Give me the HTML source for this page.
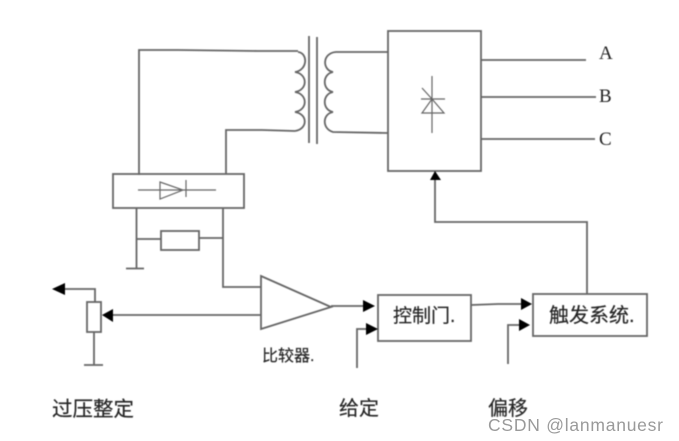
<!DOCTYPE html>
<html>
<head>
<meta charset="utf-8">
<style>
html,body{margin:0;padding:0;background:#fff;width:679px;height:441px;overflow:hidden}
svg{display:block}
.s{fill:none;stroke:#666;stroke-width:1.8}
.t{stroke:#666;stroke-width:1.2;fill:none}
.a{fill:#000;stroke:none}
.cjk{font-family:"Liberation Sans","Noto Sans CJK SC",sans-serif;fill:#222;stroke:#444;stroke-width:0.25}
.lat{font-family:"Liberation Serif",serif;fill:#222;font-size:19px}
</style>
</head>
<body>
<svg width="679" height="441" viewBox="0 0 679 441" xmlns="http://www.w3.org/2000/svg">
<g style="filter:blur(0.5px)">
<!-- primary wiring -->
<path class="s" d="M139,175 V50 H178 L258,51 H298"/>
<path class="s" d="M226,174 V130 H262 L295,131"/>
<!-- primary coil -->
<path class="s" d="M298,52 C308,53 308,70 295,72 C308,74 308,90 295,92 C308,94 308,110 295,112 C308,114 308,129 295,131"/>
<!-- core -->
<path class="s" d="M309,36 V143 M317,37 V144"/>
<!-- secondary coil -->
<path class="s" d="M388,52 H336 C322,53 322,70 333,72 C322,74 322,90 333,92 C322,94 322,110 333,112 C322,114 322,129 333,132 L388,133"/>
<!-- thyristor block -->
<rect class="s" x="388" y="31" width="93" height="140"/>
<path class="t" d="M432,76 V133 M421,99 H445 M422,88 L432,99 M432,99 L422,113 H444 Z"/>
<path class="s" d="M481,60 H586 M481,97 H596 M481,139 H595"/>
<!-- diode block -->
<rect class="s" x="113" y="174" width="131" height="34"/>
<path class="t" d="M138,190 H216 M160,182 V199 L183,190 Z M186,180 V197"/>
<path class="s" d="M136.500,208 V268 M126,268.500 H144 M136,239 H161 M199,238 H223 M223,208 V287 H261"/>
<rect class="s" x="161" y="231" width="38" height="19"/>
<!-- comparator -->
<path class="s" d="M261,276 L331,307 L261,329 Z"/>
<path class="s" d="M261,315 H112"/>
<path class="a" d="M102,315 L113,309 V322 Z"/>
<!-- potentiometer -->
<rect class="s" x="87" y="302" width="14" height="30"/>
<path class="s" d="M95,302 V289 H62 M94,332 V365 M84,365 H103"/>
<path class="a" d="M52,289 L65,283 V295 Z"/>
<!-- to control gate -->
<path class="s" d="M331,306 H365"/>
<path class="a" d="M375,306 L363,300 V312 Z"/>
<rect class="s" x="378" y="295" width="93" height="46"/>
<path class="s" d="M357,368 V329 H368"/>
<path class="a" d="M378,329 L366,323 V335 Z"/>
<path class="s" d="M471,305 L498,304 H523"/>
<path class="a" d="M532,304 L521,298 V310 Z"/>
<rect class="s" x="533" y="294" width="114" height="42"/>
<path class="s" d="M508,364 V325 H520"/>
<path class="a" d="M530,325 L519,319 V331 Z"/>
<path class="s" d="M587,294 V222 H435 V180"/>
<path class="a" d="M435,171 L430,180 H441 Z"/>
<!-- text -->
<text class="lat" x="599" y="59">A</text>
<text class="lat" x="599" y="102">B</text>
<text class="lat" x="599" y="145">C</text>
<text class="cjk" x="393" y="322" font-size="19">控制门.</text>
<text class="cjk" x="549" y="322" font-size="20">触发系统.</text>
<text class="cjk" x="262" y="361" font-size="16">比较器.</text>
<text class="cjk" x="52" y="416" font-size="20.500">过压整定</text>
<text class="cjk" x="339" y="415" font-size="20">给定</text>
<text class="cjk" x="488" y="415" font-size="20">偏移</text>
</g>
<text x="488" y="431" font-family="'Liberation Sans',sans-serif" font-size="17.500" fill="#9a9a9a" textLength="175">CSDN @lanmanuesr</text>
</svg>
</body>
</html>
